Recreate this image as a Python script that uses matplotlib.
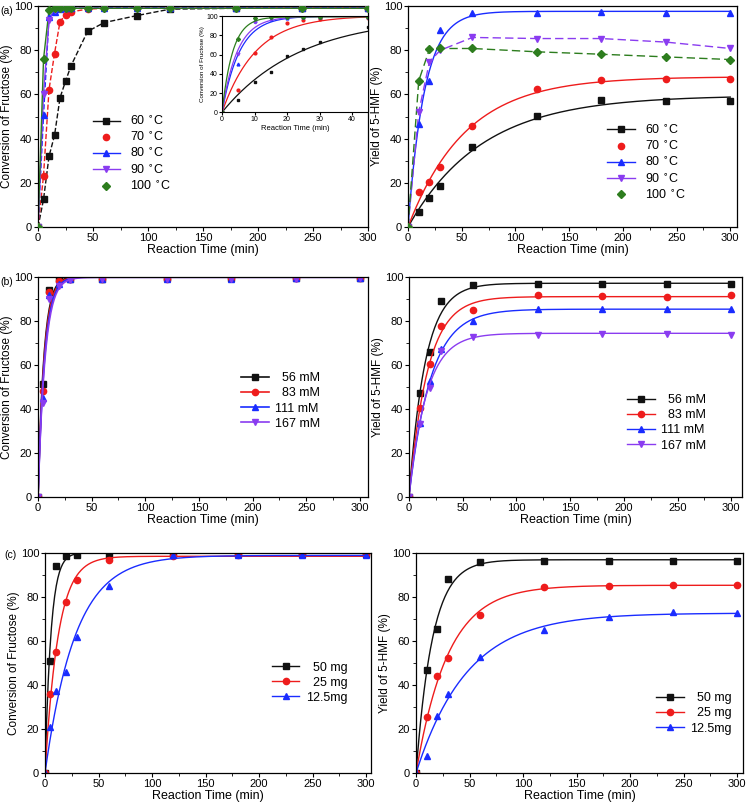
import numpy as np
import matplotlib
matplotlib.use("Agg")
import matplotlib.pyplot as plt
from matplotlib.ticker import MultipleLocator

plt.rcParams['font.family'] = ['Liberation Sans', 'DejaVu Sans']

# ---- data ----
t_a_conv = [0, 5, 10, 15, 20, 25, 30, 45, 60, 90, 120, 180, 240, 300]
a_conv_60 = [0, 12.5, 32, 41.5, 58.5, 66, 73, 88.5, 92.5, 95.7, 98.6, 99, 99, 99]
a_conv_70 = [0, 23.3, 62.2, 78.5, 93, 96, 97.4, 98.6, 99, 99, 99, 99, 99.2, 99.2]
a_conv_80 = [0, 50.5, 95, 97.5, 98.5, 99, 99, 99, 99.2, 99.2, 99.2, 99.2, 99.2, 99.2]
a_conv_90 = [0, 60.4, 93.7, 98, 98.8, 99, 99, 99, 99, 99, 99, 99, 99, 99]
a_conv_100 = [0, 76, 98.3, 99, 99, 99, 99, 99, 99, 99, 99, 99, 99, 99]

t_yield = [0, 10, 20, 30, 60, 120, 180, 240, 300]
a_yld_60 = [0, 6.8, 13.3, 18.6, 36.3, 50.2, 57.4, 57.1, 57.1]
a_yld_70 = [0, 15.7, 20.4, 27.2, 45.9, 62.4, 66.4, 66.8, 66.8]
a_yld_80 = [0, 46.8, 66, 89, 96.7, 97, 97.1, 97, 97]
a_yld_90 = [0, 52.1, 74.8, 80, 85.8, 85.3, 85.3, 83.7, 80.8]
a_yld_100 = [0, 66.2, 80.5, 80.8, 80.8, 79.3, 78.2, 77, 75.8]
temps = ["60 $^{\\circ}$C", "70 $^{\\circ}$C", "80 $^{\\circ}$C", "90 $^{\\circ}$C", "100 $^{\\circ}$C"]

t_bc = [0, 5, 10, 20, 30, 60, 120, 180, 240, 300]
b_conv_56 = [0, 51.4, 94.2, 99.2, 99.2, 99.3, 99.4, 99.5, 99.5, 99.6]
b_conv_83 = [0, 48.2, 93.2, 98.2, 99, 99.2, 99.3, 99.4, 99.5, 99.5]
b_conv_111 = [0, 44.9, 92, 97, 99, 99.1, 99.2, 99.3, 99.4, 99.5]
b_conv_167 = [0, 42.6, 90.2, 96, 98.5, 99, 99, 99, 99.2, 99.4]
b_yld_56 = [0, 47.1, 66, 89, 96.2, 96.7, 96.8, 96.7, 96.7]
b_yld_83 = [0, 40.3, 60.4, 77.6, 85.2, 92, 91.4, 90.9, 91.8]
b_yld_111 = [0, 33.5, 52.9, 67.5, 80, 85.3, 85.3, 85.6, 85.6]
b_yld_167 = [0, 33, 49.7, 66.5, 72.8, 73.9, 74.3, 74, 73.9]
concs = ["  56 mM", "  83 mM", "111 mM", "167 mM"]

c_conv_50 = [0, 50.8, 94.1, 98.9, 99, 99, 99.5, 99.5, 99.5, 99.5]
c_conv_25 = [0, 36, 55, 77.9, 87.9, 97.1, 98.9, 99.3, 99.5, 99.5]
c_conv_12 = [0, 20.9, 37.3, 45.9, 62.1, 85.3, 99, 99, 99.4, 99.4]
c_yld_50 = [0, 47, 65.6, 88.3, 96.2, 96.4, 96.5, 96.4, 96.4]
c_yld_25 = [0, 25.5, 44.1, 52.3, 72, 84.8, 85.3, 85.6, 85.6]
c_yld_12 = [0, 7.7, 25.9, 36.1, 52.7, 65.2, 70.9, 73.2, 72.7]
masses = ["  50 mg", "  25 mg", "12.5mg"]

colors = ['#111111', '#ee1c1c', '#1a2cff', '#8a3cf0', '#2d7d1e']
markers = ['s', 'o', '^', 'v', 'D']


def fit_curve(t, y, tmax):
    # first-order kinetic fit y = A(1 - exp(-k t))
    t = np.asarray(t, float)
    y = np.asarray(y, float)
    best = None
    for k in np.logspace(-3, 0.5, 600):
        f = 1 - np.exp(-k * t)
        A = (f @ y) / (f @ f)
        err = np.sum((A * f - y) ** 2)
        if best is None or err < best[0]:
            best = (err, A, k)
    tt = np.linspace(0, tmax, 400)
    return tt, best[1] * (1 - np.exp(-best[2] * tt))


def style(ax, xmax, ylabel, fs=8):
    ax.set_xlim(0, xmax)
    ax.set_ylim(0, 100)
    ax.xaxis.set_major_locator(MultipleLocator(50))
    ax.xaxis.set_minor_locator(MultipleLocator(25))
    ax.yaxis.set_major_locator(MultipleLocator(20))
    ax.yaxis.set_minor_locator(MultipleLocator(10))
    ax.tick_params(which='major', length=3, width=0.8, labelsize=fs, pad=1.2)
    ax.tick_params(which='minor', length=2, width=0.6)
    ax.set_xlabel("Reaction Time (min)", fontsize=9, labelpad=1)
    ax.set_ylabel(ylabel, fontsize=8.5, labelpad=0.5)
    for s in ax.spines.values():
        s.set_linewidth(0.9)


fig = plt.figure(figsize=(7.5, 8.08), dpi=100)

conv_label = "Conversion of Fructose (%)"
yld_label = "Yield of 5-HMF (%)"

# ---------- (a) left ----------
ax = fig.add_axes([0.0507, 0.719, 0.44, 0.2735])
series = [a_conv_60, a_conv_70, a_conv_80, a_conv_90, a_conv_100]
for i, ys in enumerate(series):
    ls = '--' if i in (0, 1, 2) else '-'
    ax.plot(t_a_conv, ys, ls, color=colors[i], lw=1, zorder=2)
    ax.plot(t_a_conv, ys, markers[i], color=colors[i], ms=4.5 if i < 4 else 4, zorder=3)
h = []
for i in range(5):
    if i in (1, 4):
        h.append(ax.plot([], [], markers[i], color=colors[i], ms=4.5, label=temps[i])[0])
    else:
        h.append(ax.plot([], [], '-', marker=markers[i], color=colors[i], ms=4.5, lw=1, label=temps[i])[0])
ax.legend(handles=h, loc='upper left', bbox_to_anchor=(0.15, 0.53), frameon=False, fontsize=9,
          labelspacing=0.25, handlelength=2.2, handletextpad=0.8, borderaxespad=0)
style(ax, 300, conv_label)
fig.text(0.001, 0.992, "(a)", fontsize=7.5, va='top')

# inset
ins = fig.add_axes([0.296, 0.861, 0.195, 0.119])
for i, ys in enumerate(series):
    tt, yy = fit_curve(t_a_conv, ys, 45)
    ins.plot(tt, yy, '-', color=colors[i], lw=0.9)
    ins.plot(t_a_conv, ys, markers[i], color=colors[i], ms=2)
ins.set_xlim(0, 45)
ins.set_ylim(0, 100)
ins.xaxis.set_major_locator(MultipleLocator(10))
ins.yaxis.set_major_locator(MultipleLocator(20))
ins.tick_params(labelsize=5, length=2, pad=1)
ins.set_xlabel("Reaction Time (min)", fontsize=5.5, labelpad=1)
ins.set_ylabel("Conversion of Fructose (%)", fontsize=4.5, labelpad=1)

# ---------- (a) right ----------
ax = fig.add_axes([0.544, 0.719, 0.439, 0.2735])
yser = [a_yld_60, a_yld_70, a_yld_80, a_yld_90, a_yld_100]
for i, ys in enumerate(yser):
    if i < 3:
        tt, yy = fit_curve(t_yield, ys, 300)
        ax.plot(tt, yy, '-', color=colors[i], lw=1)
    else:
        ax.plot(t_yield, ys, '--', color=colors[i], lw=1, dashes=(6, 3))
    ax.plot(t_yield, ys, markers[i], color=colors[i], ms=4.5 if i < 4 else 4, zorder=3)
h = []
for i in range(5):
    if i in (1, 4):
        h.append(ax.plot([], [], markers[i], color=colors[i], ms=4.5, label=temps[i])[0])
    else:
        h.append(ax.plot([], [], '-', marker=markers[i], color=colors[i], ms=4.5, lw=1, label=temps[i])[0])
ax.legend(handles=h, loc='upper left', bbox_to_anchor=(0.59, 0.49), frameon=False, fontsize=9,
          labelspacing=0.25, handlelength=2.2, handletextpad=0.8, borderaxespad=0)
style(ax, 306.5, yld_label)

# ---------- (b) left ----------
ax = fig.add_axes([0.0507, 0.385, 0.44, 0.272])
for i, ys in enumerate([b_conv_56, b_conv_83, b_conv_111, b_conv_167]):
    tt, yy = fit_curve(t_bc, ys, 300)
    ax.plot(tt, yy, '-', color=colors[i], lw=1.2)
    ax.plot(t_bc, ys, markers[i], color=colors[i], ms=4.5, label=concs[i])
h = [ax.plot([], [], '-', marker=markers[i], color=colors[i], ms=4.5, lw=1.2, label=concs[i])[0] for i in range(4)]
ax.legend(handles=h, loc='upper left', bbox_to_anchor=(0.6, 0.59), frameon=False, fontsize=9,
          labelspacing=0.25, handlelength=2.2, handletextpad=0.5, borderaxespad=0)
style(ax, 307.6, conv_label)
fig.text(0.001, 0.657, "(b)", fontsize=7.5, va='top')

# ---------- (b) right ----------
ax = fig.add_axes([0.5453, 0.385, 0.444, 0.272])
for i, ys in enumerate([b_yld_56, b_yld_83, b_yld_111, b_yld_167]):
    tt, yy = fit_curve(t_yield, ys, 300)
    ax.plot(tt, yy, '-', color=colors[i], lw=1)
    ax.plot(t_yield, ys, markers[i], color=colors[i], ms=4.5)
h = [ax.plot([], [], '-', marker=markers[i], color=colors[i], ms=4.5, lw=1, label=concs[i])[0] for i in range(4)]
ax.legend(handles=h, loc='upper left', bbox_to_anchor=(0.64, 0.49), frameon=False, fontsize=9,
          labelspacing=0.25, handlelength=2.2, handletextpad=0.5, borderaxespad=0)
style(ax, 310, yld_label)

# ---------- (c) left ----------
ax = fig.add_axes([0.06, 0.0433, 0.435, 0.272])
for i, ys in enumerate([c_conv_50, c_conv_25, c_conv_12]):
    tt, yy = fit_curve(t_bc, ys, 300)
    ax.plot(tt, yy, '-', color=colors[i], lw=1)
    ax.plot(t_bc, ys, markers[i], color=colors[i], ms=4.5)
h = [ax.plot([], [], '-', marker=markers[i], color=colors[i], ms=4.5, lw=1, label=masses[i])[0] for i in range(3)]
ax.legend(handles=h, loc='upper left', bbox_to_anchor=(0.68, 0.53), frameon=False, fontsize=9,
          labelspacing=0.25, handlelength=2.2, handletextpad=0.5, borderaxespad=0)
style(ax, 304.7, conv_label)
fig.text(0.006, 0.319, "(c)", fontsize=7.5, va='top')

# ---------- (c) right ----------
ax = fig.add_axes([0.5547, 0.0433, 0.436, 0.272])
for i, ys in enumerate([c_yld_50, c_yld_25, c_yld_12]):
    tt, yy = fit_curve(t_yield, ys, 300)
    ax.plot(tt, yy, '-', color=colors[i], lw=1)
    ax.plot(t_yield, ys, markers[i], color=colors[i], ms=4.5)
h = [ax.plot([], [], '-', marker=markers[i], color=colors[i], ms=4.5, lw=1, label=masses[i])[0] for i in range(3)]
ax.legend(handles=h, loc='upper left', bbox_to_anchor=(0.72, 0.39), frameon=False, fontsize=9,
          labelspacing=0.25, handlelength=2.2, handletextpad=0.5, borderaxespad=0)
style(ax, 305.6, yld_label)

fig.savefig("out.png", dpi=100)
